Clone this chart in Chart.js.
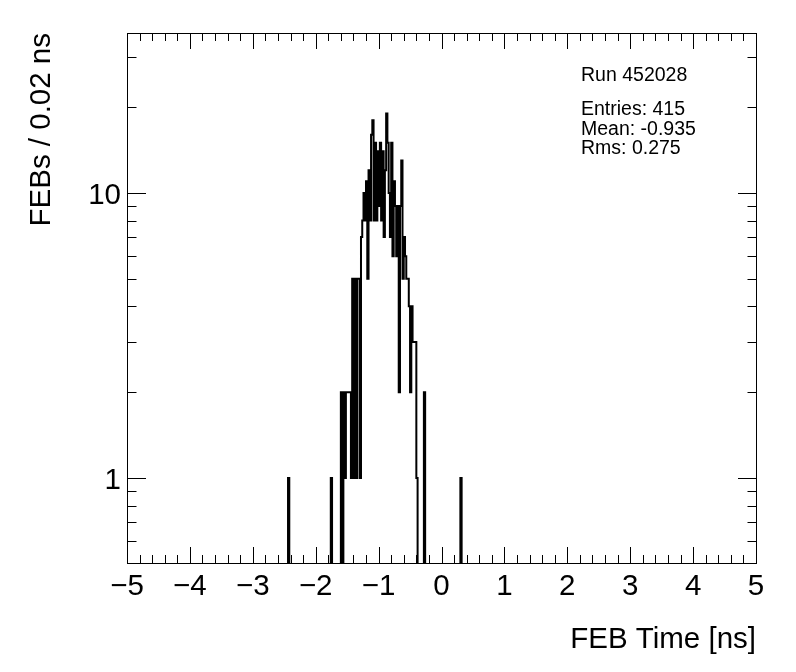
<!DOCTYPE html>
<html>
<head>
<meta charset="utf-8">
<script src="https://cdn.jsdelivr.net/npm/chart.js@4.4.1/dist/chart.umd.min.js"></script>
<style>
  html, body { margin: 0; padding: 0; background: #fff; }
  canvas { display: block; }
</style>
</head>
<body>
<canvas id="c" width="796" height="672"></canvas>
<script>
// ---- histogram definition ----
const xMin = -5;
const xMax = 5;
const binWidth = 0.02;

// contiguous core of the distribution, one count per 0.02 ns bin, starting at this low edge
const coreFirstEdge = -1.60;
const coreCounts = [
  2, 0, 2, 1, 2, 2, 2, 2, 1,
  5, 1, 5, 1, 5, 5, 1,
  7, 8, 10, 8, 11, 5, 12, 8,
  16, 18, 8, 15, 8, 14, 9, 15, 8, 14,
  7, 12, 19, 15, 10, 7, 15, 6, 11, 9,
  6, 9, 2, 9, 13, 5, 7, 6, 5, 5,
  4, 2, 4, 3, 3, 3, 1,
  0, 0, 0, 0, 0, 2
];

// isolated single bins outside the core
const isolatedEdges = [-2.44, -1.76, 0.30];
const isolatedCounts = [1, 1, 1];

// axis ticks and labels
const xMajorTicks = [-5, -4, -3, -2, -1, 0, 1, 2, 3, 4, 5];
const xTickLabels = ['\u22125', '\u22124', '\u22123', '\u22122', '\u22121', '0', '1', '2', '3', '4', '5'];
const yMajorTicks = [1, 10];
const yTickLabels = ['1', '10'];
const yMinorTicks = [0.6, 0.7, 0.8, 0.9, 2, 3, 4, 5, 6, 7, 8, 9, 20, 30];
const yRange = [0.503, 36.4];

const xTitle = 'FEB Time [ns]';
const yTitle = 'FEBs / 0.02 ns';
const statsLines = ['Run 452028', 'Entries: 415', 'Mean: -0.935', 'Rms: 0.275'];

// ---- build full bin table ----
const nBins = Math.round((xMax - xMin) / binWidth);
const counts = new Array(nBins).fill(0);
const coreStart = Math.round((coreFirstEdge - xMin) / binWidth);
coreCounts.forEach((c, j) => { counts[coreStart + j] = c; });
isolatedEdges.forEach((e, j) => { counts[Math.round((e - xMin) / binWidth)] = isolatedCounts[j]; });

const ZERO_FLOOR = 1e-3; // empty bins drop below the frame (as in ROOT log display)
const points = counts.map((c, i) => ({ x: xMin + i * binWidth, y: c > 0 ? c : ZERO_FLOOR }));
points.push({ x: xMax, y: points[points.length - 1].y });

const FONT = '"Liberation Sans", Arial, Helvetica, sans-serif';

const rootStyle = {
  id: 'rootStyle',
  afterDatasetsDraw(chart) {
    const { ctx, chartArea: a, scales } = chart;
    const xs = scales.x, ys = scales.y;
    ctx.save();
    ctx.strokeStyle = '#000';
    ctx.fillStyle = '#000';
    ctx.lineWidth = 1;
    // frame
    ctx.strokeRect(a.left + 0.5, a.top + 0.5, a.right - a.left, a.bottom - a.top);

    // x ticks (major every 1, minor every 0.2), bottom and top, pointing inward
    ctx.beginPath();
    for (let k = -25; k <= 25; k++) {
      const v = k / 5;
      const px = Math.round(xs.getPixelForValue(v)) + 0.5;
      const len = (k % 5 === 0) ? 16 : 8;
      ctx.moveTo(px, a.bottom); ctx.lineTo(px, a.bottom - len);
      ctx.moveTo(px, a.top); ctx.lineTo(px, a.top + len);
    }
    // y ticks, left and right
    const yAll = yMajorTicks.map(v => [v, 19]).concat(yMinorTicks.map(v => [v, 9.5]));
    yAll.forEach(([v, len]) => {
      const py = Math.round(ys.getPixelForValue(v)) + 0.5;
      ctx.moveTo(a.left, py); ctx.lineTo(a.left + len, py);
      ctx.moveTo(a.right + 1, py); ctx.lineTo(a.right + 1 - len, py);
    });
    ctx.stroke();

    // tick labels
    ctx.font = '29.5px ' + FONT;
    ctx.textBaseline = 'alphabetic';
    ctx.textAlign = 'center';
    xMajorTicks.forEach((v, i) => {
      ctx.fillText(xTickLabels[i], xs.getPixelForValue(v), a.bottom + 32);
    });
    ctx.textAlign = 'right';
    yMajorTicks.forEach((v, i) => {
      ctx.fillText(yTickLabels[i], a.left - 6, ys.getPixelForValue(v) + 11);
    });

    // axis titles
    ctx.textAlign = 'right';
    ctx.fillText(xTitle, a.right, 648);
    ctx.save();
    ctx.translate(50, a.top);
    ctx.rotate(-Math.PI / 2);
    ctx.textAlign = 'right';
    ctx.fillText(yTitle, 0, 0);
    ctx.restore();

    // stats text
    ctx.font = '19.5px ' + FONT;
    ctx.textAlign = 'left';
    const statY = [81, 115, 135, 154];
    statsLines.forEach((s, i) => ctx.fillText(s, 581, statY[i]));
    ctx.restore();
  }
};

new Chart(document.getElementById('c'), {
  type: 'line',
  data: {
    datasets: [{
      data: points,
      stepped: true,
      borderColor: '#000',
      borderWidth: 2,
      pointRadius: 0,
      pointHoverRadius: 0,
      fill: false,
      tension: 0
    }]
  },
  options: {
    responsive: false,
    animation: false,
    devicePixelRatio: 1,
    layout: { padding: { left: 127, right: 40, top: 33, bottom: 109 } },
    plugins: { legend: { display: false }, tooltip: { enabled: false } },
    events: [],
    scales: {
      x: { type: 'linear', min: xMin, max: xMax, display: false },
      y: { type: 'logarithmic', min: yRange[0], max: yRange[1], display: false }
    }
  },
  plugins: [rootStyle]
});
</script>
</body>
</html>
